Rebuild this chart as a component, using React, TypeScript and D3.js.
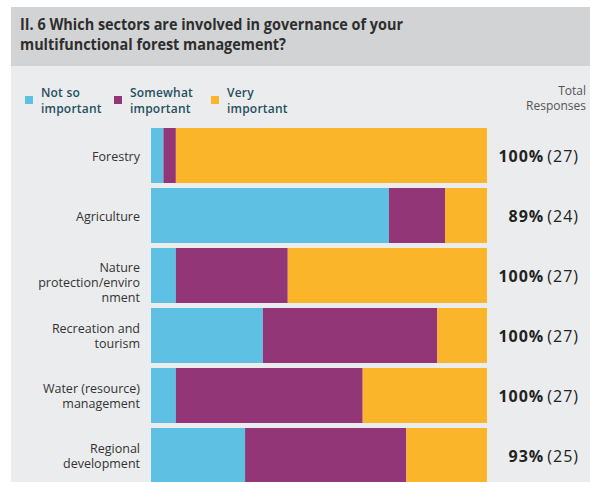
import React from "react";
import * as d3 from "d3";

const categories = [
  "Forestry",
  "Agriculture",
  "Nature protection/environment",
  "Recreation and tourism",
  "Water (resource) management",
  "Regional development",
];
const categoryLines = [
  ["Forestry"],
  ["Agriculture"],
  ["Nature", "protection/enviro", "nment"],
  ["Recreation and", "tourism"],
  ["Water (resource)", "management"],
  ["Regional", "development"],
];
const notSoImportant = [3.7, 70.8, 7.4, 33.3, 7.4, 28];
const somewhatImportant = [3.7, 16.7, 33.3, 51.9, 55.6, 48];
const veryImportant = [92.6, 12.5, 59.3, 14.8, 37.0, 24];
const totalPercent = ["100%", "89%", "100%", "100%", "100%", "93%"];
const totalCount = ["(27)", "(24)", "(27)", "(27)", "(27)", "(25)"];
const seriesKeys = ["notSo", "somewhat", "very"];
const seriesLabels = [
  ["Not so", "important"],
  ["Somewhat", "important"],
  ["Very", "important"],
];
const seriesColors = ["#5ec0e2", "#923677", "#fbb52b"];
const titleLines = [
  "II. 6 Which sectors are involved in governance of your",
  "multifunctional forest management?",
];

const W = 590;
const H = 482;

export default function App() {
  const rows = categories.map((c, i) => ({
    cat: c,
    notSo: notSoImportant[i],
    somewhat: somewhatImportant[i],
    very: veryImportant[i],
  }));
  const stack = d3.stack<any>().keys(seriesKeys)(rows);
  const x = d3.scaleLinear().domain([0, 100]).range([151, 487]);
  const y = d3
    .scaleBand<string>()
    .domain(categories)
    .range([128, 483])
    .paddingInner(5 / 60)
    .paddingOuter(0);
  const bw = y.bandwidth();
  const font = "'Open Sans', 'Noto Sans', sans-serif";

  const legendX = [25, 114, 211];

  return (
    <svg
      width={W}
      height={H}
      style={{ position: "absolute", left: 0, top: 0, display: "block" }}
      fontFamily={font}
    >
      <rect x={0} y={0} width={W} height={H} fill="#ffffff" />
      <rect x={11} y={7} width={W - 11} height={H - 7} fill="#ebeced" />
      <rect x={11} y={7} width={W - 11} height={59} fill="#d2d3d4" />
      {titleLines.map((t, i) => (
        <text
          key={i}
          x={20}
          y={30 + i * 20}
          fontSize={15.5}
          fontWeight={700}
          fill="#2e2e2e"
          textLength={i === 0 ? 383 : 266}
          lengthAdjust="spacingAndGlyphs"
        >
          {t}
        </text>
      ))}
      {seriesLabels.map((lines, i) => (
        <g key={i}>
          <rect x={legendX[i]} y={96} width={8} height={8} fill={seriesColors[i]} />
          {lines.map((l, j) => (
            <text
              key={j}
              x={legendX[i] + 16}
              y={97 + j * 15.5}
              fontSize={12}
              fontWeight={600}
              fill="#24505e"
              letterSpacing={0.2}
            >
              {l}
            </text>
          ))}
        </g>
      ))}
      <text x={586} y={94.5} fontSize={12} fill="#555" textAnchor="end">
        Total
      </text>
      <text x={586} y={110} fontSize={12} fill="#555" textAnchor="end">
        Responses
      </text>
      {stack.map((s, si) => (
        <g key={si} fill={seriesColors[si]}>
          {s.map((d, di) => (
            <rect
              key={di}
              x={x(d[0])}
              y={y(categories[di])}
              width={Math.max(0, x(d[1]) - x(d[0]))}
              height={bw}
            />
          ))}
        </g>
      ))}
      {categories.map((c, i) => {
        const lines = categoryLines[i];
        const n = lines.length;
        const cy = (y(c) as number) + bw / 2;
        const first = cy + 5 - (n - 1) * 7.5 + (n > 2 ? 6 : 0);
        return (
          <g key={c}>
            {lines.map((l, j) => (
              <text
                key={j}
                x={140}
                y={first + j * 15.3}
                fontSize={12.5}
                fill="#333"
                textAnchor="end"
              >
                {l}
              </text>
            ))}
            <text
              x={579}
              y={cy + 6}
              fontSize={16}
              fill="#222"
              textAnchor="end"
              letterSpacing={1}
            >
              <tspan fontWeight={700}>{totalPercent[i]}</tspan>
              <tspan dx={3}>{totalCount[i]}</tspan>
            </text>
          </g>
        );
      })}
    </svg>
  );
}
